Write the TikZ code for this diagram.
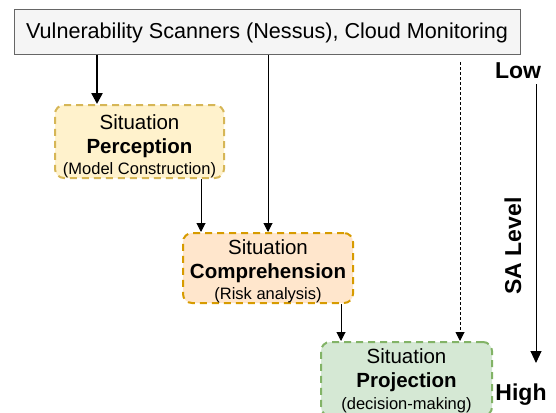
\documentclass[tikz,border=0pt]{standalone}
\usepackage{fontspec}
\setmainfont{Liberation Sans}
\usetikzlibrary{arrows.meta}
\definecolor{topfill}{HTML}{F5F5F5}
\definecolor{topdraw}{HTML}{666666}
\definecolor{yfill}{HTML}{FFF2CC}
\definecolor{ydraw}{HTML}{D6B656}
\definecolor{ofill}{HTML}{FFE6CC}
\definecolor{odraw}{HTML}{D79B00}
\definecolor{gfill}{HTML}{D5E8D4}
\definecolor{gdraw}{HTML}{82B366}
\tikzset{
  sabox/.style={rounded corners=9pt, line width=2pt, dash pattern=on 7pt off 5pt, inner sep=0pt},
  satext/.style={align=center, inner sep=0pt, font=\fontsize{20.5}{24}\selectfont},
  conn/.style={-{Triangle[length=9pt,width=9pt]}, line width=1pt},
  big/.style={font=\fontsize{23}{26}\selectfont\bfseries},
}
\newcommand{\subtxt}[1]{{\fontsize{16.5}{18}\selectfont #1}}
\begin{document}
\begin{tikzpicture}[x=1pt,y=-1pt]
\useasboundingbox (0,0) rectangle (556,412);
\node[draw=topdraw, fill=topfill, line width=1pt, minimum width=506pt, minimum height=45pt, inner sep=0pt, font=\fontsize{21.6}{24}\selectfont] (src) at (267,32.5) {Vulnerability Scanners (Nessus), Cloud Monitoring};
\node[sabox, fill=yfill, draw=ydraw, minimum width=169pt, minimum height=73pt] (per) at (139.5,141.5) {};
\node[satext] (pert) at (139.5,146) {Situation\\\textbf{Perception}\\[-3pt]\subtxt{(Model Construction)}};
\node[sabox, fill=ofill, draw=odraw, minimum width=170pt, minimum height=70pt] (com) at (268,268) {};
\node[satext] (comt) at (268,271) {Situation\\\textbf{Comprehension}\\[-3pt]\subtxt{(Risk analysis)}};
\node[sabox, fill=gfill, draw=gdraw, minimum width=171pt, minimum height=74pt] (pro) at (406.5,379) {};
\node[satext] (prot) at (406.5,381) {Situation\\\textbf{Projection}\\[-2pt]\subtxt{(decision-making)}};
\coordinate (a1) at (97,55);
\coordinate (a2) at (268,55);
\coordinate (a3) at (460,62);
\draw[-{Triangle[length=11pt,width=11pt]}, line width=2.5pt] (a1) -- (per.north -| a1);
\draw[conn] (a2) -- (com.north -| a2);
\draw[conn] (per.south -| 201,0) -- (com.north -| 201,0);
\draw[conn] (com.south -| 341,0) -- (pro.north -| 341,0);
\draw[conn, dash pattern=on 3pt off 2pt] (a3) -- (pro.north -| a3);
\node[big] (low) at (518,71) {Low};
\node[big] (high) at (521,395) {High};
\coordinate (s1) at (536,84);
\coordinate (s2) at (536,363);
\draw[-{Triangle[length=12pt,width=11pt]}, line width=1pt] (s1) -- (s2);
\node[rotate=90, big] (sal) at (513,246) {SA Level};
\end{tikzpicture}
\end{document}
